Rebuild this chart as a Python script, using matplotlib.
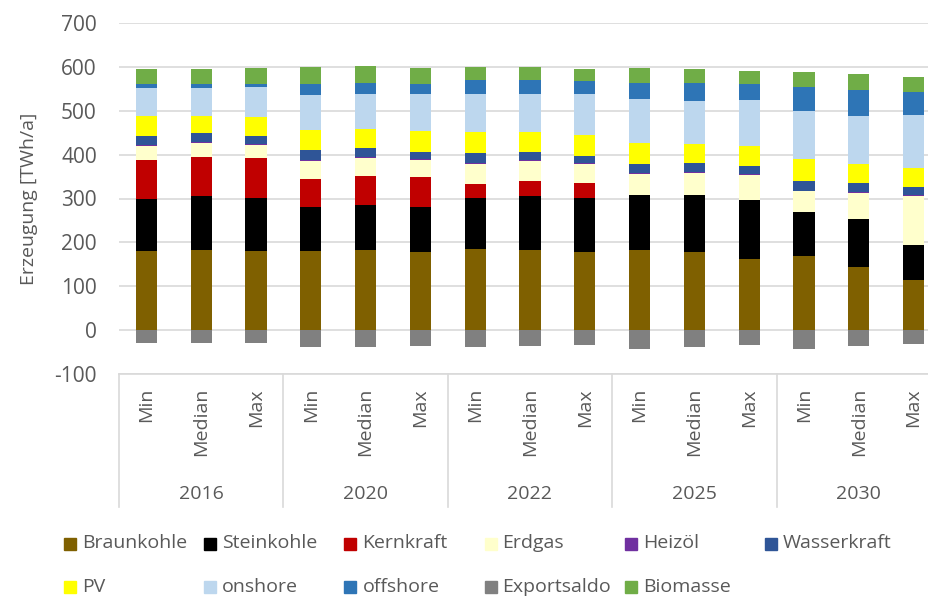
import numpy as np
import matplotlib.pyplot as plt
import matplotlib.transforms as mtransforms
from matplotlib.patches import Rectangle

plt.rcParams['font.family'] = ['Open Sans', 'DejaVu Sans']
plt.rcParams['axes.unicode_minus'] = False

years = ['2016', '2020', '2022', '2025', '2030']
cases = ['Min', 'Median', 'Max']

# TWh/a per bar: 2016 Min, Median, Max, 2020 Min, ... 2030 Max
braunkohle = [180, 182, 181, 180, 182, 178, 184, 183, 178, 182, 178, 161, 170, 145, 115]
steinkohle = [118, 123, 121, 100, 103, 103, 117, 122, 123, 125, 131, 136, 99, 108, 79]
kernkraft = [89, 89, 90, 65, 66, 67, 32, 34, 34, 0, 0, 0, 0, 0, 0]
erdgas = [33, 33, 31, 41, 41, 39, 46, 46, 44, 48, 49, 57, 48, 60, 112]
heizoel = [2, 2, 2, 2, 2, 2, 2, 2, 2, 2, 2, 1, 1, 1, 1]
wasserkraft = [21, 20, 18, 22, 21, 18, 22, 19, 17, 21, 20, 18, 23, 21, 19]
pv = [44, 40, 42, 47, 44, 46, 49, 46, 47, 49, 45, 46, 48, 44, 44]
onshore = [64, 63, 70, 80, 79, 85, 87, 86, 94, 99, 98, 106, 110, 109, 121]
offshore = [9, 10, 7, 23, 25, 22, 30, 32, 28, 38, 41, 37, 54, 59, 51]
exportsaldo = [-30, -30, -30, -38, -38, -36, -38, -37, -34, -42, -39, -34, -43, -36, -32]
biomasse = [36, 34, 35, 40, 39, 38, 30, 30, 28, 33, 31, 29, 36, 36, 36]

series = [
    ('Braunkohle', braunkohle, '#7f6000'),
    ('Steinkohle', steinkohle, '#000000'),
    ('Kernkraft', kernkraft, '#c00000'),
    ('Erdgas', erdgas, '#ffffcc'),
    ('Heizöl', heizoel, '#7030a0'),
    ('Wasserkraft', wasserkraft, '#2f5597'),
    ('PV', pv, '#ffff00'),
    ('onshore', onshore, '#bdd7ee'),
    ('offshore', offshore, '#2e75b6'),
    ('Exportsaldo', exportsaldo, '#808080'),
    ('Biomasse', biomasse, '#70ad47'),
]

txt = '#595959'
grid = '#d9d9d9'

fig = plt.figure(figsize=(9.29, 5.96), dpi=100)
ax = fig.add_axes([119 / 929, 222 / 596, 822 / 929, 351 / 596])

x = np.arange(len(braunkohle))
pos = np.zeros(len(x))
neg = np.zeros(len(x))
for name, vals, col in series:
    v = np.array(vals, dtype=float)
    base = np.where(v >= 0, pos, neg)
    ax.bar(x, v, 0.39, bottom=base, color=col, linewidth=0, zorder=3)
    pos += np.where(v >= 0, v, 0)
    neg += np.where(v < 0, v, 0)

ax.set_xlim(-0.5, len(x) - 0.5)
ax.set_ylim(-100, 700)
ax.set_yticks(range(-100, 701, 100))
ax.yaxis.grid(True, color=grid, linewidth=1.2, zorder=0)
for s in ['top', 'right', 'left']:
    ax.spines[s].set_visible(False)
ax.spines['bottom'].set_color(grid)
ax.spines['bottom'].set_linewidth(1.2)
ax.tick_params(axis='y', length=0, pad=16, labelsize=15, labelcolor=txt)
ax.set_xticks(x)
ax.set_xticklabels(cases * len(years), rotation=90, va='top')
ax.tick_params(axis='x', length=0, pad=10, labelsize=14, labelcolor=txt)
ax.set_ylabel('Erzeugung [TWh/a]', fontsize=14, color=txt, labelpad=12)

# Gruppenbeschriftung unter der Achse
trans = mtransforms.blended_transform_factory(ax.transData, ax.transAxes)
for i, yr in enumerate(years):
    ax.text(3 * i + 1, -0.341, yr, transform=trans, ha='center', va='center',
            fontsize=14, color=txt)
for b in np.arange(-0.5, len(x), 3):
    ax.plot([b, b], [0, -0.379], transform=trans, color=grid, linewidth=1.2,
            clip_on=False)

# Legende (Excel-Stil, gleich breite Spalten)
for i, (name, vals, col) in enumerate(series):
    r, c = divmod(i, 6)
    lx = 64 + c * 140.2
    ly = 596 - (543.5 + r * 43.5)
    fig.patches.append(Rectangle((lx / 929, (ly - 6) / 596), 12 / 929, 12 / 596,
                                 transform=fig.transFigure, color=col))
    fig.text((lx + 18) / 929, ly / 596, name, fontsize=14, color=txt,
             va='center', ha='left')

fig.savefig('out.png', dpi=100)
